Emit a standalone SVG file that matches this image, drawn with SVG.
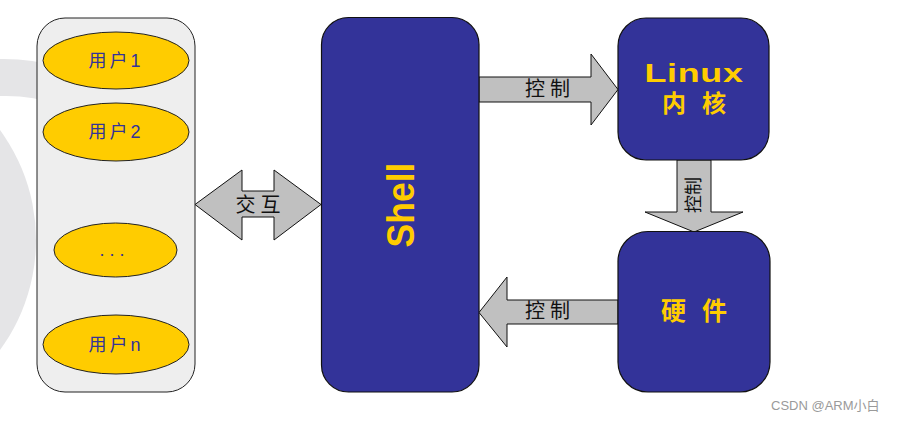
<svg xmlns="http://www.w3.org/2000/svg" width="897" height="424" viewBox="0 0 897 424">
<style>
.bg{fill:#ffffff}
.wm{fill:#e5e5e7}
.panel{fill:#eeeeee;stroke:#222222;stroke-width:1}
.user{fill:#ffcc00;stroke:#222222;stroke-width:1}
.utext{font-family:"Liberation Sans","Noto Sans CJK SC",sans-serif;font-size:18px;fill:#333399;text-anchor:middle}
.box{fill:#333399;stroke:#111111;stroke-width:1.2}
.arrow{fill:#c0c0c0;stroke:#111111;stroke-width:1}
.alabel{font-family:"Liberation Serif","Noto Sans CJK SC",serif;font-size:20px;fill:#111111;text-anchor:middle;letter-spacing:5px}
.vlabel{font-family:"Liberation Serif","Noto Sans CJK SC",serif;font-size:18px;fill:#111111;text-anchor:middle}
.ytext{font-family:"Liberation Sans","Noto Sans CJK SC",sans-serif;font-weight:bold;fill:#ffcc00;text-anchor:middle}
.credit{font-family:"Liberation Sans","Noto Sans CJK SC",sans-serif;font-size:13px;fill:#9a9a9a}
</style>
<rect class="bg" x="0" y="0" width="897" height="424"/>
<g id="watermark-shape">
<path class="wm" d="M0,59 A200,200 0 0 1 60,67 L60,105 A165,165 0 0 0 0,96 Z"/>
<circle class="wm" cx="-150" cy="240" r="186"/>
</g>
<g id="connectors">
<g id="arrow-interact">
<path class="arrow" d="M195,204.5 L242,170 L242,191 L274,191 L274,170 L321,204.5 L274,240 L274,217 L242,217 L242,240 Z"/>
<text class="alabel" x="260.5" y="212">交互</text>
</g>
<g id="arrow-shell-kernel">
<path class="arrow" d="M479,77 L591,77 L591,54 L618,89.5 L591,125 L591,102 L479,102 Z"/>
<text class="alabel" x="550" y="96">控制</text>
</g>
<g id="arrow-kernel-hw">
<path class="arrow" d="M677,160 L711,160 L711,212 L743,212 L694,232 L645,212 L677,212 Z"/>
<text class="vlabel" transform="translate(700,195) rotate(-90)" x="0" y="0">控制</text>
</g>
<g id="arrow-hw-shell">
<path class="arrow" d="M618,300 L507,300 L507,277 L479,312.5 L507,347 L507,324 L618,324 Z"/>
<text class="alabel" x="550" y="318">控制</text>
</g>
</g>
<g id="users">
<rect class="panel" x="37" y="18" width="158" height="374" rx="28" ry="28"/>
<g id="user1">
<ellipse class="user" cx="116" cy="60.5" rx="73" ry="28.5"/>
<text class="utext" x="116" y="66.5" letter-spacing="3">用户1</text>
</g>
<g id="user2">
<ellipse class="user" cx="116" cy="132" rx="73" ry="29"/>
<text class="utext" x="116" y="138" letter-spacing="3">用户2</text>
</g>
<g id="user-dots">
<ellipse class="user" cx="115.5" cy="250" rx="61.5" ry="27"/>
<text class="utext" x="112" y="256" font-size="13">. . .</text>
</g>
<g id="usern">
<ellipse class="user" cx="116" cy="344.5" rx="73" ry="29.5"/>
<text class="utext" x="116" y="350.5" letter-spacing="3">用户n</text>
</g>
</g>
<g id="shell">
<rect class="box" x="321.5" y="17.5" width="157.5" height="374.5" rx="27" ry="27"/>
<text class="ytext" font-size="39" textLength="85" lengthAdjust="spacingAndGlyphs" transform="translate(414,205) rotate(-90)" x="0" y="0">Shell</text>
</g>
<g id="kernel">
<rect class="box" x="618" y="18" width="151" height="142" rx="28" ry="28"/>
<text class="ytext" font-size="26" transform="translate(694,82) scale(1.38,1)" x="0" y="0" letter-spacing="0.5">Linux</text>
<text class="ytext" font-size="24" x="702" y="112" letter-spacing="16">内核</text>
</g>
<g id="hardware">
<rect class="box" x="618" y="231.5" width="152" height="160.5" rx="30" ry="30"/>
<text class="ytext" font-size="25" x="702" y="320" letter-spacing="16">硬件</text>
</g>
<text class="credit" x="771" y="410">CSDN @ARM小白</text>
</svg>
